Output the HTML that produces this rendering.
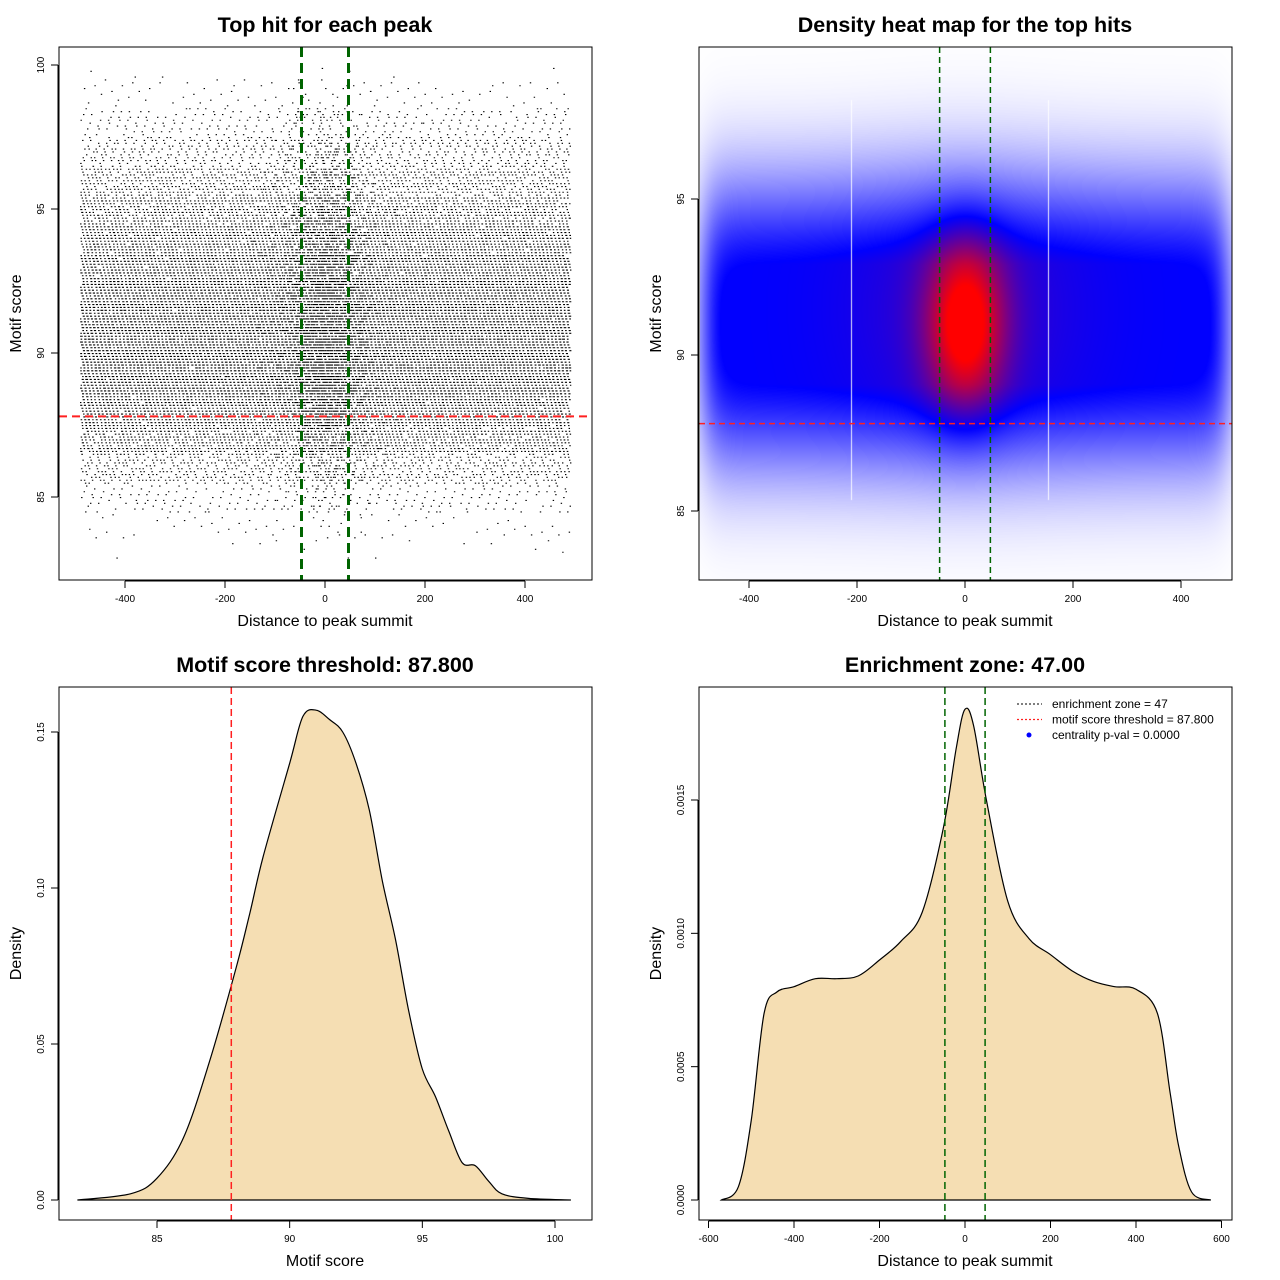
<!DOCTYPE html>
<html><head><meta charset="utf-8">
<style>
html,body{margin:0;padding:0;background:#fff;width:1280px;height:1280px;overflow:hidden;font-family:"Liberation Sans",sans-serif}
#heat{position:absolute;left:700px;top:48px;width:532px;height:532px}
#main{position:absolute;left:0;top:0}
</style></head><body>
<canvas id="heat" width="532" height="532"></canvas>
<svg id="main" width="1280" height="1280" xmlns="http://www.w3.org/2000/svg" font-family="Liberation Sans, sans-serif">
<g id="p1"></g>
<g id="p2"></g>
<g id="p3"></g>
<g id="p4"></g>
</svg>
<script>
// ---- data ----
const scoreBins = [83,84,85,86,87,88,89,90,91,92,93,94,95,96,97,98,99,100];
const scoreBinCounts = [6,30,110,330,700,1150,1500,1650,1620,1500,1250,950,650,420,260,130,40,6];
const centralEnrichment = 0.1;
const threshold = 87.8;
const zone = 47;
const scoreDensX = [82,84,85,86,87,88,88.5,89,90,90.5,91,91.5,92,92.5,93,93.5,94,94.5,95,95.5,96,96.5,97,97.5,98,99,100.6];
const scoreDensY = [0,0.002,0.007,0.02,0.045,0.075,0.092,0.11,0.14,0.155,0.157,0.154,0.15,0.14,0.125,0.102,0.083,0.06,0.042,0.033,0.022,0.012,0.011,0.006,0.002,0.0005,0];
const distDensX = [-570,-530,-500,-470,-440,-400,-350,-300,-250,-200,-150,-100,-50,-20,0,20,50,100,150,200,250,300,350,400,450,480,500,530,575];
const distDensY = [0,0.00005,0.0003,0.0007,0.00078,0.0008,0.00083,0.00083,0.00084,0.0009,0.00097,0.00108,0.0014,0.0017,0.00184,0.00178,0.0015,0.00112,0.00098,0.00092,0.00086,0.00082,0.0008,0.00079,0.0007,0.0004,0.0002,0.00003,0];
const xTicks12 = [-400,-200,0,200,400];
const yTicks1 = [85,90,95,100];
const yTicks2 = [85,90,95];
const xTicks3 = [85,90,95,100];
const yTicks3 = [0,0.05,0.10,0.15];
const yTicks3Labels = ["0.00","0.05","0.10","0.15"];
const xTicks4 = [-600,-400,-200,0,200,400,600];
const yTicks4 = [0,0.0005,0.001,0.0015];
const yTicks4Labels = ["0.0000","0.0005","0.0010","0.0015"];

const NS="http://www.w3.org/2000/svg";
function el(parent,tag,attrs,text){const e=document.createElementNS(NS,tag);for(const k in attrs)e.setAttribute(k,attrs[k]);if(text!==undefined)e.textContent=text;parent.appendChild(e);return e;}
function lin(d0,d1,r0,r1){return v=>r0+(v-d0)/(d1-d0)*(r1-r0);}

function frame(g,L,T,R,B,title,xlab,ylab,tcx){
  const b=el(g,'rect',{x:L,y:T,width:R-L,height:B-T,fill:'none',stroke:'#000','stroke-width':1});
  
  const t=el(g,'text',{x:tcx,y:T-15,'text-anchor':'middle','font-size':21.5,'font-weight':'bold'},title);
  
  const xl=el(g,'text',{x:tcx,y:B+46,'text-anchor':'middle','font-size':16},xlab);
  
  const cy=(T+B)/2;
  const yl=el(g,'text',{x:L-38,y:cy,'text-anchor':'middle','font-size':16,transform:`rotate(-90 ${L-38} ${cy})`},ylab);
  
}
function xAxis(g,ticks,labels,sx,B){
  const y=B+1;
  el(g,'line',{x1:sx(ticks[0]),x2:sx(ticks[ticks.length-1]),y1:y,y2:y,stroke:'#000'});
  ticks.forEach((v,i)=>{
    el(g,'line',{x1:sx(v),x2:sx(v),y1:y,y2:y+7,stroke:'#000'});
    const t=el(g,'text',{x:sx(v),y:y+21,'text-anchor':'middle','font-size':10},labels[i]);
    
  });
}
function yAxis(g,ticks,labels,sy,L){
  const x=L-1;
  el(g,'line',{x1:x,x2:x,y1:sy(ticks[0]),y2:sy(ticks[ticks.length-1]),stroke:'#000'});
  ticks.forEach((v,i)=>{
    el(g,'line',{x1:x-7,x2:x,y1:sy(v),y2:sy(v),stroke:'#000'});
    const t=el(g,'text',{x:x-14,y:sy(v),'text-anchor':'middle','font-size':10,transform:`rotate(-90 ${x-14} ${sy(v)})`},labels[i]);
    
  });
}
function frac(v){return v-Math.floor(v);}

// ---- Panel 1: scatter ----
(function(){
  const g=document.getElementById('p1');
  const L=59,T=47,R=592,B=580;
  const sx=lin(0,400,325,525), sy=lin(85,90,497,353);
  const parts=[]; let n=0;
  scoreBins.forEach((s,bi)=>{
    const cnt=Math.round(scoreBinCounts[bi]*2.4);
    for(let k=0;k<cnt;k++){
      n++;
      const u=frac(n*0.6180339887+0.13), v=frac(n*0.7548776662+0.37), w=frac(n*0.5698402910+0.71), q=frac(n*0.4142135624);
      let x;
      if(w<centralEnrichment){x=(q-0.5)*2*Math.sqrt(-2*Math.log(Math.max(u,1e-6)))*60;x=Math.max(-490,Math.min(490,x));}
      else x=-490+u*980;
      const sc=Math.round((s-0.5+v)*10)/10;
      if(sc<82.8||sc>99.9)continue;
      parts.push(`M${sx(x).toFixed(1)} ${sy(sc).toFixed(1)}h1.4v1.1h-1.4z`);
    }
  });
  const p=el(g,'path',{d:parts.join(''),fill:'#000'});
  
  const h=el(g,'line',{x1:L,x2:R,y1:sy(threshold),y2:sy(threshold),stroke:'#ff2020','stroke-width':2,'stroke-dasharray':'8 5'});
  
  [-zone,zone].forEach(z=>{const v=el(g,'line',{x1:sx(z),x2:sx(z),y1:T,y2:B,stroke:'#006400','stroke-width':3,'stroke-dasharray':'10 6'});
    });
  frame(g,L,T,R,B,'Top hit for each peak','Distance to peak summit','Motif score',325);
  xAxis(g,xTicks12,xTicks12.map(String),sx,B);
  yAxis(g,yTicks1,yTicks1.map(String),sy,L);
})();

// ---- Panel 2: heatmap ----
(function(){
  const g=document.getElementById('p2');
  const L=699,T=47,R=1232,B=580;
  const sx=lin(0,200,965,1073), sy=lin(85,90,511,355);
  const cv=document.getElementById('heat'),ctx=cv.getContext('2d');
  const img=ctx.createImageData(532,532);
  const xi=lin(965,1073,0,200), yi=lin(355,511,90,85);
  for(let py=0;py<532;py++){
    const s=yi(py+48);
    const d=Math.abs(s-91);
    const row=Math.exp(-Math.pow(d/4.6,2.5));
    for(let px=0;px<532;px++){
      const x=xi(px+700);
      const edge=1/(1+Math.exp((Math.abs(x)-485)/15));
      const cen=Math.exp(-x*x/(2*50*50))*Math.exp(-Math.pow(s-91,2)/(2*1.9*1.9));
      const halo=Math.exp(-x*x/(2*150*150))*Math.exp(-Math.pow(s-91.5,2)/(2*3*3));
      let side=Math.min(0.5,row*0.56*edge);
      let t=side+cen*0.5+halo*0.1;
      t=Math.min(1,t);
      let r,gg,b;
      if(t<0.5){const a=t/0.5;r=255*(1-a);gg=255*(1-a);b=255;}
      else{const a=(t-0.5)/0.5;r=255*a;gg=0;b=255*(1-a);}
      const i=(py*532+px)*4;img.data[i]=r;img.data[i+1]=gg;img.data[i+2]=b;img.data[i+3]=255;
    }
  }
  ctx.putImageData(img,0,0);
  ctx.fillStyle='rgba(255,255,255,0.9)';
  ctx.fillRect(851-700,100-48,1,400);ctx.fillRect(1048-700,100-48,1,400);
  const h=el(g,'line',{x1:L,x2:R,y1:sy(threshold),y2:sy(threshold),stroke:'#ff2020','stroke-width':1.5,'stroke-dasharray':'6 4'});
  
  [-zone,zone].forEach(z=>{const v=el(g,'line',{x1:sx(z),x2:sx(z),y1:T,y2:B,stroke:'#006400','stroke-width':1.5,'stroke-dasharray':'6 4'});
    });
  frame(g,L,T,R,B,'Density heat map for the top hits','Distance to peak summit','Motif score',965);
  xAxis(g,xTicks12,xTicks12.map(String),sx,B);
  yAxis(g,yTicks2,yTicks2.map(String),sy,L);
})();

function densPath(xs,ys,sx,sy){
  let d=`M${sx(xs[0])} ${sy(0)}`;
  const P=xs.map((x,i)=>[sx(x),sy(ys[i])]);
  d+=`L${P[0][0]} ${P[0][1]}`;
  for(let i=0;i<P.length-1;i++){
    const p0=P[Math.max(0,i-1)],p1=P[i],p2=P[i+1],p3=P[Math.min(P.length-1,i+2)];
    const c1=[p1[0]+(p2[0]-p0[0])/6,p1[1]+(p2[1]-p0[1])/6],c2=[p2[0]-(p3[0]-p1[0])/6,p2[1]-(p3[1]-p1[1])/6];
    d+=`C${c1[0].toFixed(1)} ${c1[1].toFixed(1)} ${c2[0].toFixed(1)} ${c2[1].toFixed(1)} ${p2[0].toFixed(1)} ${p2[1].toFixed(1)}`;
  }
  return d+'Z';
}

// ---- Panel 3 ----
(function(){
  const g=document.getElementById('p3');
  const L=59,T=687,R=592,B=1220;
  const sx=lin(85,100,157,555), sy=lin(0,0.15,1200,732);
  const a=el(g,'path',{d:densPath(scoreDensX,scoreDensY,sx,sy),fill:'#f5deb3',stroke:'#000','stroke-width':1.2});
  
  const v=el(g,'line',{x1:sx(threshold),x2:sx(threshold),y1:T,y2:B,stroke:'#ff2020','stroke-width':1.5,'stroke-dasharray':'7 4'});
  
  frame(g,L,T,R,B,'Motif score threshold: 87.800','Motif score','Density',325);
  xAxis(g,xTicks3,xTicks3.map(String),sx,B);
  yAxis(g,yTicks3,yTicks3Labels,sy,L);
})();

// ---- Panel 4 ----
(function(){
  const g=document.getElementById('p4');
  const L=699,T=687,R=1232,B=1220;
  const sx=lin(0,400,965,1136), sy=lin(0,0.0015,1200,800);
  const a=el(g,'path',{d:densPath(distDensX,distDensY,sx,sy),fill:'#f5deb3',stroke:'#000','stroke-width':1.2});
  
  [-zone,zone].forEach(z=>{const v=el(g,'line',{x1:sx(z),x2:sx(z),y1:T,y2:B,stroke:'#006400','stroke-width':1.5,'stroke-dasharray':'7 4'});
    });
  frame(g,L,T,R,B,'Enrichment zone: 47.00','Distance to peak summit','Density',965);
  xAxis(g,xTicks4,xTicks4.map(String),sx,B);
  yAxis(g,yTicks4,yTicks4Labels,sy,L);
  const lg=el(g,'g',{});
  
  const items=[['enrichment zone = 47','#333333','line'],['motif score threshold = 87.800','#ff2020','line'],['centrality p-val = 0.0000','#0000ff','dot']];
  items.forEach((it,i)=>{
    const y=704+i*15.5;
    if(it[2]==='line') el(lg,'line',{x1:1017,x2:1042,y1:y,y2:y,stroke:it[1],'stroke-width':1.2,'stroke-dasharray':'2 2'});
    else el(lg,'circle',{cx:1029,cy:y,r:2.5,fill:it[1]});
    const t=el(lg,'text',{x:1052,y:y+4,'font-size':12},it[0]);
    
  });
})();
</script>
</body></html>
